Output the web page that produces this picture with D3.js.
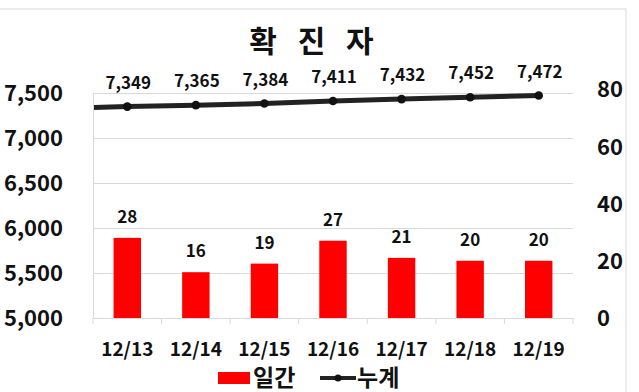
<!DOCTYPE html>
<html><head><meta charset="utf-8">
<script src="https://cdn.jsdelivr.net/npm/d3@7"></script>
<style>
html,body{margin:0;padding:0;background:#fff;}
svg text{font-family:"Noto Sans CJK KR","Noto Sans",sans-serif;font-weight:700;fill:#111;}
</style></head><body>
<svg id="c" width="639" height="392"></svg>
<script>
const categories = ["12/13","12/14","12/15","12/16","12/17","12/18","12/19"];
const daily = [28,16,19,27,21,20,20];
const cumulative = [7349,7365,7384,7411,7432,7452,7472];
const leftTicks = [5000,5500,6000,6500,7000,7500];
const rightTicks = [0,20,40,60,80];
const title = "확 진 자";
const legendLabels = ["일간","누계"];

const svg = d3.select("#c");
const L = 93, R = 573, T = 93, B = 318;

// frame
svg.append("rect").attr("x",-1).attr("y",9).attr("width",627).attr("height",400)
  .attr("fill","none").attr("stroke","#d9d9d9").attr("stroke-width",1);

const x = d3.scaleBand().domain(categories).range([L,R]).paddingInner(0.6).paddingOuter(0.3);
const xb = d3.scaleBand().domain(categories).range([L,R]);
const yL = d3.scaleLinear().domain([5000,7500]).range([B,T]);
const yR = d3.scaleLinear().domain([0,80]).range([B,89]);

// gridlines
svg.append("g").selectAll("line").data(leftTicks.slice(1)).join("line")
  .attr("x1",L).attr("x2",R).attr("y1",d=>yL(d)+0.5).attr("y2",d=>yL(d)+0.5)
  .attr("stroke","#d9d9d9").attr("stroke-width",1);

// left axis
const gl = svg.append("g").attr("transform",`translate(${L},0)`)
  .call(d3.axisLeft(yL).tickValues(leftTicks).tickFormat(d3.format(",")).tickSize(0).tickPadding(30));
gl.select(".domain").attr("stroke","#d9d9d9");
gl.selectAll("text").style("font-size","22px").attr("dy","0.36em");

// right axis
const gr = svg.append("g").attr("transform",`translate(${R},0)`)
  .call(d3.axisRight(yR).tickValues(rightTicks).tickSize(0).tickPadding(24));
gr.select(".domain").remove();
gr.selectAll("text").style("font-size","22px").attr("dy","0.36em");

// bars
svg.append("g").selectAll("rect").data(daily).join("rect")
  .attr("x",(d,i)=>x(categories[i])).attr("width",x.bandwidth())
  .attr("y",d=>yR(d)).attr("height",d=>B-yR(d)).attr("fill","#ff0000");

svg.append("g").selectAll("text").data(daily).join("text")
  .attr("x",(d,i)=>x(categories[i])+x.bandwidth()/2).attr("y",d=>yR(d)-21)
  .attr("text-anchor","middle").attr("dy","0.36em").style("font-size","17px").text(d=>d);

// bottom axis
const gb = svg.append("g").attr("transform",`translate(0,${B})`)
  .call(d3.axisBottom(xb).tickSize(0));
gb.select(".domain").attr("stroke","#d9d9d9");
gb.selectAll("text").style("font-size","19px").attr("dy","0.36em").attr("y",31);
svg.append("g").selectAll("line").data(categories.concat(["end"])).join("line")
  .attr("x1",(d,i)=>L+i*xb.step()).attr("x2",(d,i)=>L+i*xb.step())
  .attr("y1",B).attr("y2",B+6).attr("stroke","#d9d9d9");

// line
const cx = i => xb(categories[i]) + xb.bandwidth()/2;
const pts = cumulative.map((v,i)=>[cx(i),yL(v)]);
const linePts = [[L+1,yL(cumulative[0])+0.8]].concat(pts);
svg.append("path").attr("d",d3.line()(linePts)).attr("fill","none")
  .attr("stroke","#222").attr("stroke-width",5).attr("stroke-linecap","butt");
svg.append("g").selectAll("circle").data(cumulative).join("circle")
  .attr("cx",(d,i)=>cx(i)).attr("cy",d=>yL(d)).attr("r",4.3).attr("fill","#111");
svg.append("g").selectAll("text").data(cumulative).join("text")
  .attr("x",(d,i)=>cx(i)+1).attr("y",d=>yL(d)-24)
  .attr("text-anchor","middle").attr("dy","0.36em").style("font-size","17px").text(d=>d3.format(",")(d));

// title
svg.append("text").attr("x",315).attr("y",41).attr("text-anchor","middle").attr("dy","0.36em")
  .style("font-size","30px").style("letter-spacing","7px").text(title);

// legend
const ly = 378;
svg.append("rect").attr("x",218).attr("y",372).attr("width",32).attr("height",12).attr("fill","#ff0000");
svg.append("text").attr("x",253).attr("y",ly).attr("dy","0.36em").style("font-size","23px").text(legendLabels[0]);
svg.append("line").attr("x1",320).attr("x2",356).attr("y1",ly).attr("y2",ly).attr("stroke","#222").attr("stroke-width",4);
svg.append("circle").attr("cx",338).attr("cy",ly).attr("r",3.5).attr("fill","#111");
svg.append("text").attr("x",357).attr("y",ly).attr("dy","0.36em").style("font-size","23px").text(legendLabels[1]);
</script></body></html>
